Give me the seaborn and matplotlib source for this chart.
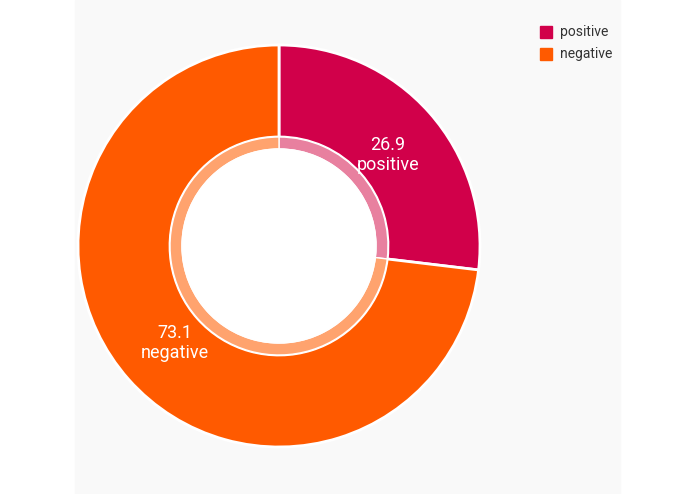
import matplotlib
matplotlib.use("Agg")
import matplotlib.pyplot as plt
import seaborn as sns
from matplotlib.patches import Rectangle, Circle

labels = ["positive", "negative"]
values = [26.9, 73.1]
colors = ["#d1004a", "#ff5a00"]
ring_colors = ["#e8809f", "#ffa36e"]

sns.set_style("white")
plt.rcParams['font.family'] = ['Roboto', 'DejaVu Sans']

fig = plt.figure(figsize=(6.95, 4.94), dpi=100)
ax = fig.add_axes([0, 0, 1, 1])

# light grey panel behind the chart
ax.add_patch(Rectangle((75, 0), 545, 494, color="#f9f9f9", zorder=0))

cx, cy = 279, 248
ax.pie(values, colors=colors, startangle=90, counterclock=False,
       radius=201, center=(cx, cy),
       wedgeprops=dict(width=92, edgecolor="white", linewidth=2),
       frame=True)
ax.pie(values, colors=ring_colors, startangle=90, counterclock=False,
       radius=109, center=(cx, cy),
       wedgeprops=dict(width=12, edgecolor="white", linewidth=1), frame=True)
ax.add_patch(Circle((cx, cy), 97, color="white", zorder=5))
ax.set_xlim(0, 695)
ax.set_ylim(0, 494)
ax.set_aspect("equal")
ax.axis("off")

ax.text(388, 494 - 155, f"{values[0]}\n{labels[0]}", color="white", fontsize=13,
        ha="center", va="center", linespacing=1.1, zorder=6)
ax.text(175, 494 - 343, f"{values[1]}\n{labels[1]}", color="white", fontsize=13,
        ha="center", va="center", linespacing=1.1, zorder=6)

for i, (lab, c) in enumerate(zip(labels, colors)):
    y = 494 - 32 - i * 22
    ax.add_patch(Rectangle((540, y - 6), 12, 12, color=c, zorder=6))
    ax.text(560, y, lab, fontsize=10, va="center", color="#333333", zorder=6)

fig.savefig("out.png", dpi=100)
